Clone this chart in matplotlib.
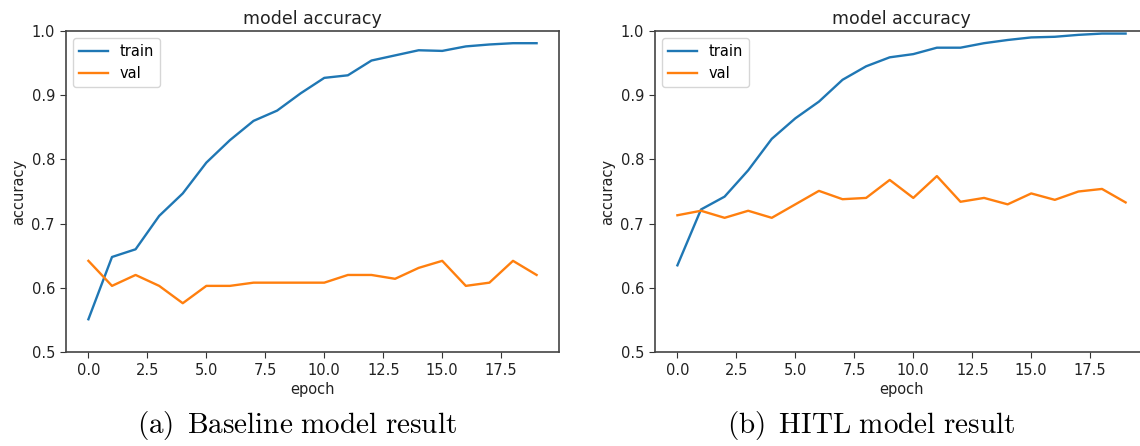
import matplotlib
matplotlib.use("Agg")
from matplotlib import pyplot as plt

epochs = list(range(20))

base_train = [0.551, 0.648, 0.660, 0.712, 0.747, 0.795, 0.830, 0.860, 0.876, 0.903,
              0.927, 0.931, 0.954, 0.962, 0.970, 0.969, 0.976, 0.979, 0.981, 0.981]
base_val = [0.642, 0.603, 0.620, 0.603, 0.576, 0.603, 0.603, 0.608, 0.608, 0.608,
            0.608, 0.620, 0.620, 0.614, 0.631, 0.642, 0.603, 0.608, 0.642, 0.620]

hitl_train = [0.635, 0.722, 0.742, 0.783, 0.832, 0.864, 0.890, 0.924, 0.945, 0.959,
              0.964, 0.974, 0.974, 0.981, 0.986, 0.990, 0.991, 0.994, 0.996, 0.996]
hitl_val = [0.713, 0.720, 0.709, 0.720, 0.709, 0.730, 0.751, 0.738, 0.740, 0.768,
            0.740, 0.774, 0.734, 0.740, 0.730, 0.747, 0.737, 0.750, 0.754, 0.733]

plt.rcParams["mathtext.fontset"] = "cm"

fig = plt.figure(figsize=(11.4, 4.46), dpi=100)
W, H = 1140, 446

def panel(left, train, val):
    ax = fig.add_axes([left / W, 94 / H, 493 / W, 321 / H])
    ax.plot(epochs, train, color="#1f77b4", lw=1.7, label="train")
    ax.plot(epochs, val, color="#ff7f0e", lw=1.7, label="val")
    ax.set_ylim(0.5, 1.0)
    ax.set_xticks([0, 2.5, 5, 7.5, 10, 12.5, 15, 17.5])
    ax.tick_params(labelsize=10.5, color="#333333", labelcolor="#222222", length=4.5)
    ax.set_title("model accuracy", fontsize=12.5, color="#222222", pad=5)
    ax.set_xlabel("epoch", fontsize=10.5, color="#222222", labelpad=3)
    ax.set_ylabel("accuracy", fontsize=10.5, color="#222222")
    for s in ax.spines.values():
        s.set_color("#444444")
        s.set_linewidth(1.2)
    ax.legend(loc="upper left", fontsize=10.5)
    return ax

panel(66, base_train, base_val)
panel(655, hitl_train, hitl_val)

fig.text(297 / W, 1 - 425 / H, r"$\mathrm{(a)\ \,Baseline\ model\ result}$",
         ha="center", va="center", fontsize=21)
fig.text(871 / W, 1 - 425 / H, r"$\mathrm{(b)\ \,HITL\ model\ result}$",
         ha="center", va="center", fontsize=21)

fig.savefig("out.png", dpi=100)
